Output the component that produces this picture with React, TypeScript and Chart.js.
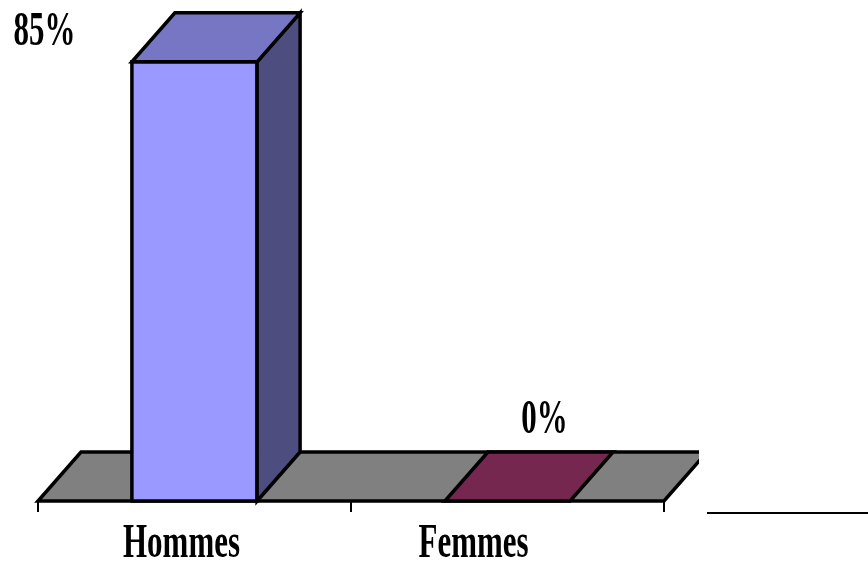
import React, { useEffect, useRef } from "react";
import { Chart, registerables } from "chart.js";

Chart.register(...registerables);

const categories = ["Hommes", "Femmes"];
const values = [85, 0];
const barColors = ["#9999FF", "#993366"];
const valueLabels = values.map((v) => `${v}%`);

const DEPTH_X = 43;
const DEPTH_Y = -49;
const FONT = 'bold 48px "Liberation Serif", "Times New Roman", serif';
const SQUEEZE = 0.645;

function shade(hex: string, f: number) {
  const n = parseInt(hex.slice(1), 16);
  const r = Math.round(((n >> 16) & 255) * f);
  const g = Math.round(((n >> 8) & 255) * f);
  const b = Math.round((n & 255) * f);
  return `rgb(${r},${g},${b})`;
}

function poly(ctx: CanvasRenderingContext2D, pts: number[][], fill: string) {
  ctx.beginPath();
  ctx.moveTo(pts[0][0], pts[0][1]);
  for (let i = 1; i < pts.length; i++) ctx.lineTo(pts[i][0], pts[i][1]);
  ctx.closePath();
  ctx.fillStyle = fill;
  ctx.fill();
  ctx.stroke();
}

function squeezedText(ctx: CanvasRenderingContext2D, text: string, cx: number, baseline: number) {
  ctx.save();
  ctx.font = FONT;
  ctx.fillStyle = "#000";
  ctx.textAlign = "center";
  ctx.textBaseline = "alphabetic";
  ctx.translate(cx, baseline);
  ctx.scale(SQUEEZE, 1);
  ctx.fillText(text, 0, 0);
  ctx.restore();
}

// label placement relative to each bar (Excel-style offsets)
const valueLabelOffsets = [
  [-150, -17],
  [37, -68],
];
const catLabelOffsets = [-13, -34];

const threeD = {
  id: "threeD",
  beforeDatasetsDraw(chart: any) {
    const { ctx, chartArea } = chart;
    const { left, right, bottom } = chartArea;
    ctx.save();
    ctx.lineWidth = 3.5;
    ctx.lineJoin = "miter";
    ctx.strokeStyle = "#000";
    // floor, clipped at the plot's right border
    ctx.save();
    ctx.beginPath();
    ctx.rect(0, 0, right + 35, chart.height);
    ctx.clip();
    poly(
      ctx,
      [
        [left, bottom],
        [right, bottom],
        [right + DEPTH_X, bottom + DEPTH_Y],
        [left + DEPTH_X, bottom + DEPTH_Y],
      ],
      "#808080"
    );
    ctx.restore();
    // tick marks at category boundaries
    ctx.lineWidth = 2;
    const n = categories.length;
    ctx.beginPath();
    for (let i = 0; i <= n; i++) {
      const x = Math.round(left + ((right - left) * i) / n);
      ctx.moveTo(x, bottom);
      ctx.lineTo(x, bottom + 11);
    }
    ctx.stroke();
    // bars
    ctx.lineWidth = 3.5;
    const meta = chart.getDatasetMeta(0);
    meta.data.forEach((bar: any, i: number) => {
      const col = barColors[i];
      const x0 = bar.x - bar.width / 2;
      const x1 = bar.x + bar.width / 2;
      const yt = bar.y;
      const yb = bar.base;
      if (yb - yt > 0.5) {
        poly(ctx, [[x0, yt], [x1, yt], [x1, yb], [x0, yb]], col);
        poly(
          ctx,
          [
            [x1, yt],
            [x1 + DEPTH_X, yt + DEPTH_Y],
            [x1 + DEPTH_X, yb + DEPTH_Y],
            [x1, yb],
          ],
          shade(col, 0.5)
        );
      }
      poly(
        ctx,
        [
          [x0, yt],
          [x1, yt],
          [x1 + DEPTH_X, yt + DEPTH_Y],
          [x0 + DEPTH_X, yt + DEPTH_Y],
        ],
        shade(col, 0.77)
      );
    });
    ctx.restore();
    return false;
  },
  afterDraw(chart: any) {
    const { ctx, chartArea } = chart;
    const meta = chart.getDatasetMeta(0);
    meta.data.forEach((bar: any, i: number) => {
      const [ox, oy] = valueLabelOffsets[i];
      squeezedText(ctx, valueLabels[i], bar.x + ox, bar.y + oy);
      squeezedText(ctx, categories[i], bar.x + catLabelOffsets[i], chartArea.bottom + 56);
    });
    // legend remnant line
    ctx.save();
    ctx.strokeStyle = "#000";
    ctx.lineWidth = 2;
    ctx.beginPath();
    ctx.moveTo(707, chartArea.bottom + 12);
    ctx.lineTo(chart.width, chartArea.bottom + 12);
    ctx.stroke();
    ctx.restore();
  },
};

export default function App() {
  const ref = useRef<HTMLCanvasElement>(null);
  useEffect(() => {
    document.body.style.margin = "0";
    const chart = new Chart(ref.current as HTMLCanvasElement, {
      type: "bar",
      data: {
        labels: categories,
        datasets: [
          {
            data: values,
            backgroundColor: barColors,
            barPercentage: 1,
            categoryPercentage: 0.4,
          },
        ],
      },
      options: {
        responsive: false,
        animation: false,
        layout: { padding: { left: 38, right: 204, top: 36, bottom: 66 } },
        plugins: { legend: { display: false }, tooltip: { enabled: false } },
        scales: {
          x: { display: false },
          y: { display: false, min: 0, max: 90 },
        },
      },
      plugins: [threeD],
    });
    return () => chart.destroy();
  }, []);
  return <canvas ref={ref} width={868} height={567} style={{ display: "block" }} />;
}
